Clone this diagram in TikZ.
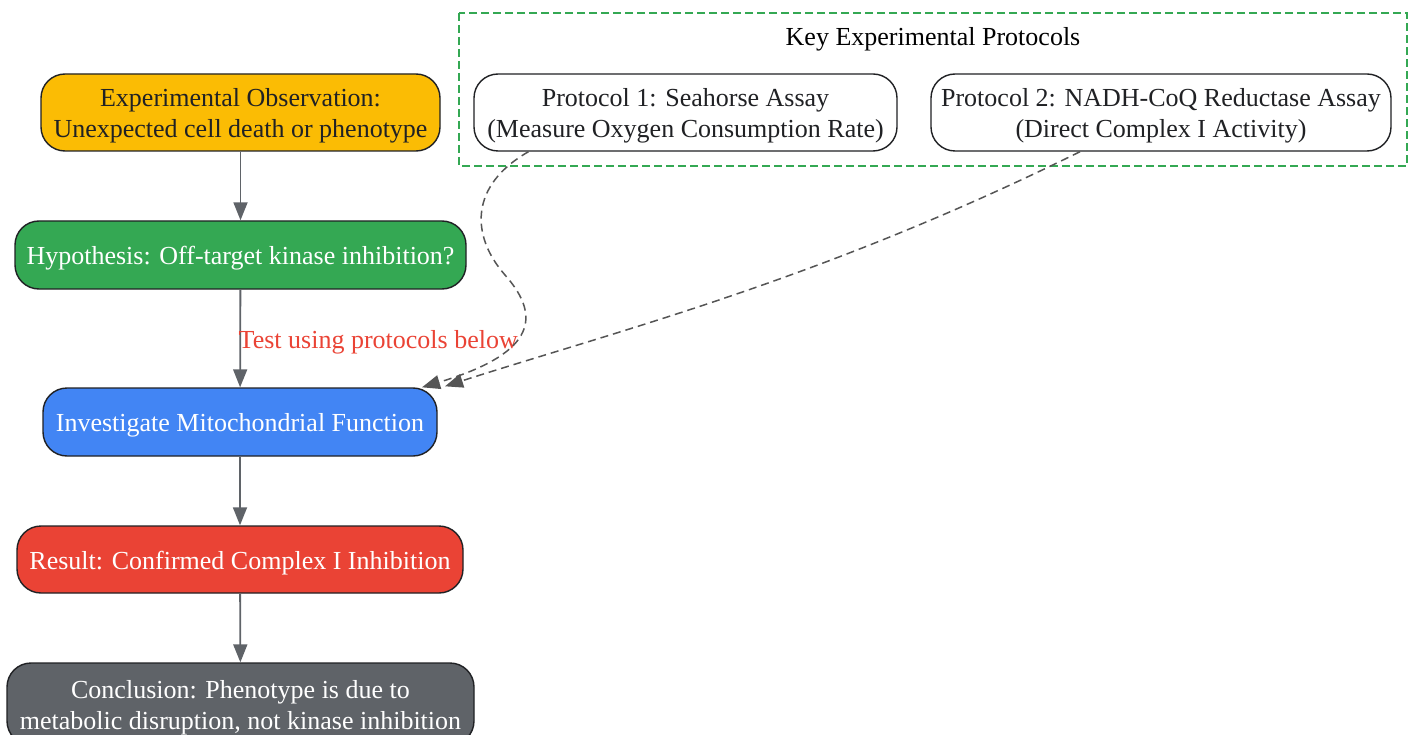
\documentclass[tikz,border=0pt]{standalone}
\usepackage{fontspec}
\setmainfont{Liberation Serif}
\usetikzlibrary{arrows.meta}
\definecolor{cyellow}{HTML}{FBBC04}
\definecolor{cgreen}{HTML}{34A853}
\definecolor{cblue}{HTML}{4285F4}
\definecolor{cred}{HTML}{EA4335}
\definecolor{cgrey}{HTML}{5F6368}
\definecolor{cdark}{HTML}{202124}
\definecolor{cline}{HTML}{555555}
\newcommand{\boxtext}[1]{\raisebox{-3.5pt}[\height][\depth]{\begin{tabular}{@{}c@{}}#1\end{tabular}}}
\tikzset{
  txt/.style={font=\fontsize{26}{31}\selectfont},
  box/.style={draw=cdark, line width=1.4pt, rounded corners=24pt, align=center,
    inner sep=0pt, txt},
  flow/.style={draw=cgrey, line width=1.8pt, -{Triangle[length=18pt,width=14pt]}},
  dflow/.style={draw=cline, line width=1.5pt, dash pattern=on 8pt off 5pt,
    -{Triangle[length=18pt,width=14pt]}},
}
\begin{document}
\begin{tikzpicture}[x=1pt,y=-1pt]
\useasboundingbox (0,0) rectangle (1412,735);
% cluster
\draw[cgreen, line width=1.4pt, dash pattern=on 8pt off 4pt] (459,13) rectangle (1407,166);
\node[txt, text=black] (ttl) at (933,39) {Key Experimental Protocols};
% main nodes
\node[box, fill=cyellow, text=cdark, minimum width=399pt, minimum height=77pt] (obs) at (240.5,112.5)
  {\boxtext{Experimental Observation:\\Unexpected cell death or phenotype}};
\node[box, fill=cgreen, text=white, minimum width=451pt, minimum height=68pt] (hyp) at (240.5,255)
  {\boxtext{Hypothesis: Off-target kinase inhibition?}};
\node[box, fill=cblue, text=white, minimum width=394pt, minimum height=68pt] (inv) at (240,422)
  {\boxtext{Investigate Mitochondrial Function}};
\node[box, fill=cred, text=white, minimum width=446pt, minimum height=67pt] (res) at (240,559.5)
  {\boxtext{Result: Confirmed Complex I Inhibition}};
\node[box, fill=cgrey, text=white, minimum width=467pt, minimum height=82pt] (con) at (240.5,704)
  {\boxtext{Conclusion: Phenotype is due to\\metabolic disruption, not kinase inhibition}};
% protocol nodes
\node[box, fill=white, text=cdark, minimum width=423pt, minimum height=77pt] (p1) at (685.5,112.5)
  {\boxtext{Protocol 1: Seahorse Assay\\(Measure Oxygen Consumption Rate)}};
\node[box, fill=white, text=cdark, minimum width=460pt, minimum height=77pt] (p2) at (1161,112.5)
  {\boxtext{Protocol 2: NADH-CoQ Reductase Assay\\(Direct Complex I Activity)}};
% solid edges
\draw[flow] (obs) -- (hyp);
\draw[flow] (hyp) -- node[text=cred, txt, xshift=138pt, yshift=-4pt] {Test using protocols below} (inv);
\draw[flow] (inv) -- (res);
\draw[flow] (res) -- (con);
% dashed edges
\draw[dflow] ([xshift=-157pt]p1.south) .. controls (470,185) and (470,235) .. (505,275)
  .. controls (545,320) and (530,355) .. ([xshift=182pt]inv.north);
\draw[dflow] ([xshift=-81pt]p2.south) .. controls (820,280) and (620,330) .. ([xshift=205pt,yshift=1pt]inv.north);
\end{tikzpicture}
\end{document}
